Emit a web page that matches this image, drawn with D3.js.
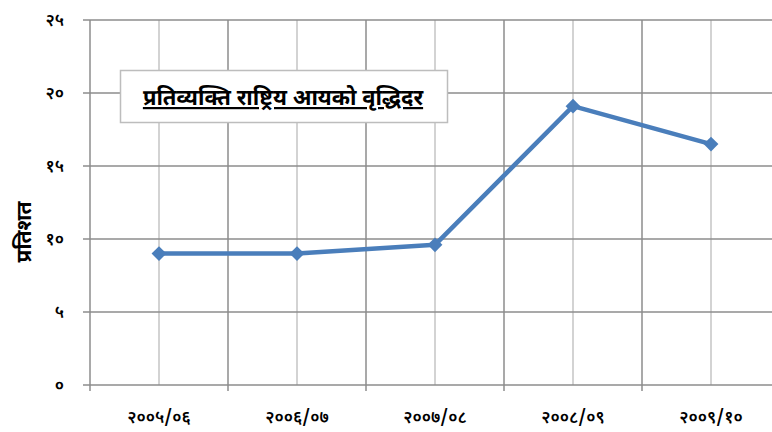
<!DOCTYPE html>
<html>
<head>
<meta charset="utf-8">
<script src="https://cdn.jsdelivr.net/npm/d3@7"></script>
<style>
  body { margin: 0; background: #fff; }
  svg text { font-family: "Noto Sans Devanagari", "Noto Sans", sans-serif; fill: #000; }
</style>
</head>
<body>
<svg id="chart" width="772" height="432"></svg>
<script>
// Fiscal years (Nepali numerals)
var years = ['२००५/०६', '२००६/०७', '२००७/०८', '२००८/०९', '२००९/१०'];
// Per-capita national income growth rate (%)
var growth = [9.0, 9.0, 9.6, 19.1, 16.5];
// Y tick values and labels
var yTicks = [0, 5, 10, 15, 20, 25];
var yTickLabels = ['०', '५', '१०', '१५', '२०', '२५'];

var titleText = 'प्रतिव्यक्ति राष्ट्रिय आयको वृद्धिदर';
var yLabel = 'प्रतिशत';

var margin = { top: 20, left: 90, bottom: 47 },
    bandWidth = 138,
    plotWidth = bandWidth * years.length,
    plotHeight = 432 - margin.top - margin.bottom;

var svg = d3.select('#chart');

// Scales
var x = d3.scaleBand()
  .domain(years)
  .range([0, plotWidth]);

var y = d3.scaleLinear()
  .domain([0, 25])
  .range([plotHeight, 0]);

var g = svg.append('g')
  .attr('transform', 'translate(' + margin.left + ',' + margin.top + ')');

// Minor vertical gridlines at category centres
g.selectAll('.minor')
  .data(years).enter()
  .append('line')
    .attr('x1', function(d) { return x(d) + x.bandwidth() / 2; })
    .attr('x2', function(d) { return x(d) + x.bandwidth() / 2; })
    .attr('y1', 0)
    .attr('y2', plotHeight)
    .attr('stroke', '#c4c4c4')
    .attr('stroke-width', 1.5);

// Major vertical gridlines between categories
g.selectAll('.major-x')
  .data(years.slice(1)).enter()
  .append('line')
    .attr('x1', function(d) { return x(d); })
    .attr('x2', function(d) { return x(d); })
    .attr('y1', 0)
    .attr('y2', plotHeight + 6)
    .attr('stroke', '#8c8c8c')
    .attr('stroke-width', 1.5);

// Horizontal gridlines
g.selectAll('.major-y')
  .data(yTicks).enter()
  .append('line')
    .attr('x1', -7)
    .attr('x2', plotWidth)
    .attr('y1', function(d) { return y(d); })
    .attr('y2', function(d) { return y(d); })
    .attr('stroke', '#8c8c8c')
    .attr('stroke-width', 1.5);

// Y axis line
g.append('line')
  .attr('x1', 0).attr('x2', 0)
  .attr('y1', 0).attr('y2', plotHeight + 6)
  .attr('stroke', '#8c8c8c')
  .attr('stroke-width', 1.5);

// Y tick labels
g.selectAll('.ylab')
  .data(yTicks).enter()
  .append('text')
    .attr('x', -26)
    .attr('y', function(d) { return y(d); })
    .attr('dy', '0.38em')
    .attr('text-anchor', 'end')
    .style('font-size', '17px')
    .style('font-weight', '600')
    .text(function(d, i) { return yTickLabels[i]; });

// X labels
g.selectAll('.xlab')
  .data(years).enter()
  .append('text')
    .attr('x', function(d) { return x(d) + x.bandwidth() / 2; })
    .attr('y', plotHeight + 38)
    .attr('text-anchor', 'middle')
    .style('font-size', '17px')
    .style('font-weight', '600')
    .text(function(d) { return d; });

// Line
var line = d3.line()
  .x(function(d, i) { return x(years[i]) + x.bandwidth() / 2; })
  .y(function(d) { return y(d); });

g.append('path')
  .datum(growth)
  .attr('fill', 'none')
  .attr('stroke', '#4a7ebb')
  .attr('stroke-width', 4.5)
  .attr('stroke-linejoin', 'round')
  .attr('d', line);

// Diamond markers
g.selectAll('.marker')
  .data(growth).enter()
  .append('path')
    .attr('d', d3.symbol().type(d3.symbolDiamond2).size(140))
    .attr('transform', function(d, i) {
      return 'translate(' + (x(years[i]) + x.bandwidth() / 2) + ',' + y(d) + ')';
    })
    .attr('fill', '#4a7ebb');

// Title box
svg.append('rect')
  .attr('x', 120.5).attr('y', 70.5)
  .attr('width', 327).attr('height', 52)
  .attr('fill', '#fff')
  .attr('stroke', '#bdbdbd')
  .attr('stroke-width', 1.5);

svg.append('text')
  .attr('x', 283)
  .attr('y', 105)
  .attr('text-anchor', 'middle')
  .style('font-size', '22px')
  .style('font-weight', 'bold')
  .style('text-decoration', 'underline')
  .text(titleText);

// Y axis title
svg.append('text')
  .attr('transform', 'translate(31,232) rotate(-90)')
  .attr('text-anchor', 'middle')
  .style('font-size', '21px')
  .style('font-weight', 'bold')
  .text(yLabel);
</script>
</body>
</html>
